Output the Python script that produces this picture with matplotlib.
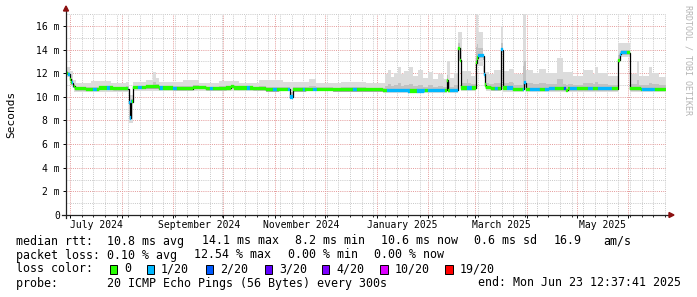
import datetime as dt
import numpy as np
import matplotlib
matplotlib.use('Agg')
import matplotlib.pyplot as plt
import matplotlib.dates as mdates
from matplotlib.ticker import MultipleLocator, NullFormatter
from matplotlib.transforms import ScaledTranslation
from matplotlib.patches import Rectangle, Polygon

plt.rcParams['font.family'] = ['DejaVu Sans Mono']

W, H = 697, 297
start = dt.datetime(2024, 6, 28, 12, 37, 41)
span_days = 360

# median rtt in ms, as step changes (days after start)
med_day = [0, 1.2, 2.4, 3.0, 4.2, 5.4, 12, 20, 28, 37.5, 38.4, 39.0, 40.2, 48, 56, 64, 76, 84, 96, 99, 101,
           112, 120, 128, 134.5, 136.2, 144, 160, 176, 190, 205, 215, 228.6, 229.2, 235.2, 236.4, 237.0,
           246, 246.6, 247.2, 250.8, 251.4, 252, 255, 261, 262.2, 268, 274.8, 276, 290, 300, 301.2, 310,
           331.2, 332.4, 333, 338.4, 345, 355]
med_ms = [12.0, 11.9, 11.5, 11.2, 10.9, 10.7, 10.65, 10.75, 10.7, 9.5, 8.2, 9.6, 10.8, 10.85, 10.75, 10.7,
          10.8, 10.7, 10.75, 10.9, 10.75, 10.7, 10.6, 10.65, 10.0, 10.6, 10.65, 10.6, 10.6, 10.55, 10.5,
          10.55, 11.4, 10.55, 14.1, 13.1, 10.75, 12.9, 13.3, 13.5, 11.9, 11.0, 10.8, 10.7, 14.0, 10.75,
          10.65, 11.2, 10.65, 10.7, 10.55, 10.7, 10.7, 13.1, 13.6, 13.75, 10.7, 10.65, 10.65]

# upper edge of the smoke
hi_day = [0, 2.4, 4.2, 6, 15, 27, 36, 37.5, 40.2, 48, 52, 54, 56, 70, 80, 92, 104, 116, 130, 146, 150, 165,
          180, 191.4, 193, 195, 197, 199, 201, 203, 206, 208, 211, 214, 217, 220, 223, 226, 228.6, 230.4,
          233, 235.2, 237.6, 240.4, 241.2, 243, 246, 247, 250.2, 254, 257, 261, 262.2, 266, 269, 274.2,
          276, 280, 284, 288, 294.6, 298.2, 304, 310, 316, 317.4, 319, 325, 331.2, 338.4, 342.6, 343.8,
          350, 351.6, 356]
hi_ms = [12.5, 12.2, 11.4, 11.2, 11.35, 11.2, 11.3, 10.2, 11.3, 11.4, 12.1, 11.6, 11.3, 11.4, 11.2, 11.35,
         11.2, 11.4, 11.3, 11.5, 11.2, 11.3, 11.15, 11.9, 12.3, 11.7, 12.0, 12.5, 11.9, 12.2, 12.5, 11.8,
         12.3, 11.6, 12.1, 11.5, 11.9, 11.5, 13.0, 11.6, 12.0, 15.5, 12.2, 13.3, 12.2, 11.8, 17.2, 15.5,
         12.1, 11.9, 12.3, 16.0, 12.2, 12.4, 11.9, 17.2, 12.3, 12.0, 12.4, 12.0, 13.3, 12.1, 11.8, 12.3,
         11.9, 12.5, 12.0, 11.8, 14.6, 11.9, 13.0, 11.8, 12.5, 12.0, 11.7]

# lower edge of the smoke
lo_day = [0, 3.0, 4.8, 37.5, 40.2, 190, 228.6, 229.2, 235.2, 237.0, 246, 250.8, 251.4, 252, 261, 262.2,
          274.8, 276, 331.2, 332.4, 338.4]
lo_ms = [11.7, 11.0, 10.45, 7.8, 10.5, 10.35, 11.2, 10.35, 13.0, 10.5, 12.6, 11.6, 10.7, 10.5, 13.7, 10.4,
         10.9, 10.4, 12.9, 13.4, 10.45]

# packet loss class of the median segment
loss_day = [0, 1.2, 2.4, 3.6, 4.5, 16.2, 18.6, 24.6, 26.4, 37.2, 39.6, 43.2, 45.6, 56.4, 58.2, 64.2, 66.6,
            86.4, 88.2, 108.6, 110.4, 124.2, 126.6, 133.2, 136.2, 142.2, 143.4, 148.2, 150.6, 172.2, 174.6,
            192.6, 206.4, 210.6, 215.4, 217.2, 227.4, 230.4, 235.2, 240.6, 243.6, 247.2, 251.4, 257.4,
            259.2, 261, 262.2, 264.6, 268.2, 274.2, 276, 278.4, 284.4, 287.4, 293.4, 298.8, 300, 302.4,
            306.6, 313.2, 316.2, 319.2, 327.6, 332.4, 336.6, 345.6, 353.4]
loss_level = [0, 1, 0, 1, 0, 1, 0, 1, 0, 1, 0, 1, 0, 1, 0, 1, 0, 1, 0, 1, 0, 1, 0, 1, 0, 1, 0, 1, 0, 1, 0,
              1, 0, 1, 0, 1, 0, 1, 0, 1, 0, 1, 0, 1, 0, 1, 0, 1, 0, 1, 0, 1, 0, 1, 0, 2, 0, 1, 0, 1, 0,
              1, 0, 1, 0, 1, 0]

loss_colors = ['#26ff00', '#00b8ff', '#0059ff', '#5e00ff', '#7e00ff', '#dd00ff', '#ff0000']
loss_names = ['0', '1/20', '2/20', '3/20', '4/20', '10/20', '19/20']

y_ticks = [0, 2, 4, 6, 8, 10, 12, 14, 16]
y_labels = ['0', '2 m', '4 m', '6 m', '8 m', '10 m', '12 m', '14 m', '16 m']
month_labels = ['July 2024', 'September 2024', 'November 2024', 'January 2025', 'March 2025', 'May 2025']
month_label_dates = [dt.datetime(2024, 7, 16, 12), dt.datetime(2024, 9, 16, 12), dt.datetime(2024, 11, 16, 12),
                     dt.datetime(2025, 1, 16, 12), dt.datetime(2025, 3, 16, 12), dt.datetime(2025, 5, 16, 12)]


def step_at(days, vals, t):
    idx = np.searchsorted(np.asarray(days), t, side='right') - 1
    return np.asarray(vals)[idx]


grid = np.unique(np.concatenate([med_day, hi_day, lo_day, loss_day, [span_days]]))
g = grid[:-1]
widths = np.diff(grid)
med = step_at(med_day, med_ms, g)
hi = step_at(hi_day, hi_ms, g)
lo = step_at(lo_day, lo_ms, g)
loss = step_at(loss_day, loss_level, g)

x0 = mdates.date2num(start)
xs = x0 + grid

fig = plt.figure(figsize=(W / 100, H / 100), dpi=100)
fig.patch.set_facecolor('white')
px_per_ms = 189 / 16.0
ax = fig.add_axes([66 / W, (H - 215) / H, 600 / W, (215 - 13.5) / H])
ax.set_xlim(x0, x0 + span_days)
ax.set_ylim(0, (215 - 13.5) / px_per_ms)

ax.fill_between(xs, np.append(lo, lo[-1]), np.append(hi, hi[-1]), step='post', color='#dcdcdc', lw=0, zorder=2)
inner = med + 0.3 * (hi - med)
ax.fill_between(xs, np.append(med - 0.15, med[-1] - 0.15), np.append(inner, inner[-1]), step='post',
                color='#c2c2c2', lw=0, zorder=2)
ax.step(xs, np.append(med, med[-1]), where='post', color='black', lw=0.9, zorder=3)
ax.bar(x0 + g, 0.28, width=widths, bottom=med - 0.14, align='edge',
       color=[loss_colors[k] for k in loss], edgecolor=[loss_colors[k] for k in loss], lw=0.2, zorder=4)

# grid
ax.xaxis.set_major_locator(mdates.MonthLocator())
ax.xaxis.set_minor_locator(mdates.WeekdayLocator(byweekday=mdates.MO))
ax.xaxis.set_major_formatter(NullFormatter())
ax.yaxis.set_major_locator(MultipleLocator(2))
ax.yaxis.set_minor_locator(MultipleLocator(1))
ax.set_yticks(y_ticks, y_labels)
ax.grid(which='minor', color='#c8c8c8', lw=0.7, ls=(0, (1, 1.2)), zorder=1)
ax.grid(which='major', color='#e49a9a', lw=0.7, ls=(0, (1, 1.2)), zorder=1)
ax.set_axisbelow(True)
ax.tick_params(which='major', length=2.2, width=0.7, direction='out', pad=2.2, labelsize=7, colors='black')
ax.tick_params(which='minor', length=1.2, width=0.6, direction='out')
ax.tick_params(axis='y', which='minor', length=0)
for s in ax.spines.values():
    s.set_visible(False)

# axis lines with arrows
ax.plot([0, 0], [-0.015, 1.015], transform=ax.transAxes, color='#222222', lw=0.9, clip_on=False, zorder=6)
ax.plot([-0.006, 1.006], [0, 0], transform=ax.transAxes, color='#222222', lw=0.9, clip_on=False, zorder=6)
fig.add_artist(Polygon([[63.5 / W, 1 - 11 / H], [68.5 / W, 1 - 11 / H], [66 / W, 1 - 6 / H]], closed=True,
                       transform=fig.transFigure, color='#8b1010'))
fig.add_artist(Polygon([[669 / W, 1 - 212.5 / H], [669 / W, 1 - 217.5 / H], [674 / W, 1 - 215 / H]], closed=True,
                       transform=fig.transFigure, color='#8b1010'))

lab_tr = ax.get_xaxis_transform() + ScaledTranslation(0, -10.5 / 100, fig.dpi_scale_trans)
for d, s in zip(month_label_dates, month_labels):
    ax.text(mdates.date2num(d), 0, s, transform=lab_tr, ha='center', va='center', fontsize=7)

fig.text(11 / W, 1 - 114 / H, 'Seconds', rotation=90, ha='center', va='center', fontsize=8)
fig.text(688 / W, 1 - 60 / H, 'RRDTOOL / TOBI OETIKER', rotation=-90, ha='center', va='center',
         fontsize=6, color='#b4b4b4')

# legend rows
lf = 8.4


def put(x, y, s, ha='left'):
    fig.text(x / W, 1 - y / H, s, ha=ha, va='center', fontsize=lf)


put(16, 241, 'median rtt:  10.8 ms avg')
put(202, 241, '14.1 ms max')
put(294.9, 241, '8.2 ms min')
put(381, 241, '10.6 ms now')
put(474.5, 241, '0.6 ms sd')
put(554, 241, '16.9')
put(603, 241, 'am/s')

put(16, 255, 'packet loss: 0.10 % avg')
put(194.4, 255, '12.54 % max')
put(288.2, 255, '0.00 % min')
put(374.4, 255, '0.00 % now')

put(16, 269, 'loss color:')
box_x = [109.5, 146.6, 205.5, 264.5, 321.7, 380, 445]
for bx, c, name in zip(box_x, loss_colors, loss_names):
    fig.add_artist(Rectangle((bx / W, 1 - 273.5 / H), 7.5 / W, 9 / H, transform=fig.transFigure,
                             facecolor=c, edgecolor='black', lw=0.7))
    put(bx + 14.5, 269, name)

put(16, 283, 'probe:       20 ICMP Echo Pings (56 Bytes) every 300s')
put(681, 283, 'end: Mon Jun 23 12:37:41 2025', ha='right')

fig.savefig('out.png', dpi=100, facecolor='white')
